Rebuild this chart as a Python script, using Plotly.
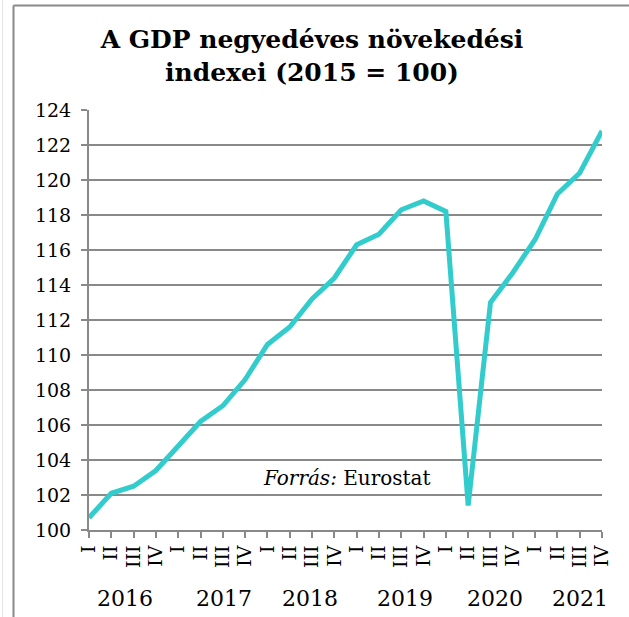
import plotly.graph_objects as go

# ---- data ----
quarters = ["I", "II", "III", "IV"]
years = ["2016", "2017", "2018", "2019", "2020", "2021"]
gdp_index = [100.7, 102.1, 102.5, 103.4, 104.8, 106.2, 107.1, 108.6,
             110.6, 111.6, 113.2, 114.4, 116.3, 116.9, 118.3, 118.8,
             118.2, 101.4, 113.0, 114.7, 116.6, 119.2, 120.4, 122.8]
y_ticks = list(range(100, 125, 2))

# ---- layout constants (page body margin removed via post_script) ----
W, H = 629, 617
L, T = 89, 110
R = W - 602
B = H - 530
year_label_x = [1.6, 6.05, 9.9, 14.15, 18.2, 22.0]   # category index positions
GRID = "#898989"
LINE = "#33CCCC"
FONT = "DejaVu Serif"

x_idx = list(range(len(gdp_index)))
tick_text = [q for _ in years for q in quarters]

fig = go.Figure()
fig.add_trace(go.Scatter(
    x=x_idx, y=gdp_index, mode="lines",
    line=dict(color=LINE, width=5),
    hoverinfo="skip", showlegend=False,
))

pw = W - L - R
ph = H - T - B
def px_x(p):          # page pixel -> paper x
    return (p - L) / pw
def px_y(p):          # page pixel -> paper y
    return (H - B - p) / ph

shapes = [
    dict(type="line", xref="paper", yref="paper",
         x0=px_x(2.5), x1=px_x(2.5), y0=px_y(H + 5), y1=px_y(-5),
         line=dict(color="#e4e4e4", width=1)),
    dict(type="line", xref="paper", yref="paper",
         x0=px_x(13.5), x1=px_x(13.5), y0=px_y(H + 5), y1=px_y(5.5),
         line=dict(color=GRID, width=2)),
    dict(type="line", xref="paper", yref="paper",
         x0=px_x(13.5), x1=px_x(W + 5), y0=px_y(5.5), y1=px_y(5.5),
         line=dict(color=GRID, width=2)),
]

annotations = [
    dict(x=x, y=px_y(598), xref="x", yref="paper", text=yr, showarrow=False,
         font=dict(family=FONT, size=22, color="black"),
         xanchor="center", yanchor="middle")
    for x, yr in zip(year_label_x, years)
]
annotations.append(dict(
    x=11.55, y=102.97, xref="x", yref="y",
    text="<i>Forrás:</i> Eurostat", showarrow=False,
    font=dict(family=FONT, size=20, color="black"),
    xanchor="center", yanchor="middle"))

fig.update_layout(
    width=W, height=H,
    margin=dict(l=L, r=R, t=T, b=B, pad=0),
    paper_bgcolor="white", plot_bgcolor="white",
    title=dict(
        text="<b>A GDP negyedéves növekedési<br>indexei (2015 = 100)</b>",
        x=312 / W, xref="container", xanchor="center",
        y=1 - 48 / H, yref="container", yanchor="top",
        font=dict(family=FONT, size=25, color="black"),
    ),
    xaxis=dict(
        range=[0, len(gdp_index) - 1],
        tickmode="array", tickvals=x_idx, ticktext=tick_text,
        tickangle=-90,
        tickfont=dict(family=FONT, size=19, color="black"),
        ticks="outside", ticklen=6, tickwidth=1.5, tickcolor=GRID,
        showline=True, linecolor=GRID, linewidth=2,
        showgrid=False, zeroline=False, fixedrange=True,
    ),
    yaxis=dict(
        range=[100, 124],
        tickmode="array", tickvals=y_ticks,
        tickfont=dict(family=FONT, size=19, color="black"),
        ticks="outside", ticklen=6, tickwidth=1.5, tickcolor=GRID,
        ticklabelstandoff=6,
        showline=True, linecolor=GRID, linewidth=2,
        showgrid=True, gridcolor=GRID, gridwidth=2,
        zeroline=False, fixedrange=True,
    ),
    shapes=shapes,
    annotations=annotations,
)

fig.write_html("out.html",
               config={"displayModeBar": False},
               post_script="document.body.style.margin='0px';")
